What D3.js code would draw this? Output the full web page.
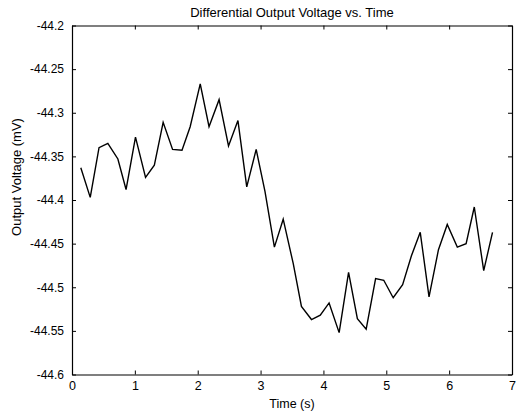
<!DOCTYPE html>
<html>
<head>
<meta charset="utf-8">
<script src="https://cdn.jsdelivr.net/npm/d3@7"></script>
<style>
  html, body { margin: 0; padding: 0; background: #fff; }
  text { font-family: "Liberation Sans", Arial, sans-serif; fill: #000; }
</style>
</head>
<body>
<div id="chart"></div>
<script>
const WIDTH = 517;
const HEIGHT = 413;
const MARGIN = { top: 25.5, right: 5, bottom: 38.5, left: 72 };

// values
const timeValues = [
  0.14, 0.29, 0.43, 0.57, 0.73, 0.86, 1.01, 1.17, 1.31, 1.45,
  1.60, 1.75, 1.88, 2.04, 2.18, 2.34, 2.49, 2.64, 2.78, 2.93,
  3.07, 3.22, 3.36, 3.52, 3.65, 3.81, 3.95, 4.09, 4.25, 4.40,
  4.54, 4.68, 4.83, 4.96, 5.11, 5.26, 5.40, 5.54, 5.68, 5.83,
  5.97, 6.13, 6.27, 6.40, 6.55, 6.69
];
const voltageValues = [
  -44.363, -44.397, -44.340, -44.335, -44.353, -44.388, -44.328, -44.374, -44.360, -44.311,
  -44.342, -44.343, -44.316, -44.267, -44.316, -44.285, -44.338, -44.309, -44.385, -44.342,
  -44.390, -44.454, -44.422, -44.473, -44.522, -44.537, -44.532, -44.518, -44.552, -44.483,
  -44.536, -44.548, -44.490, -44.492, -44.512, -44.497, -44.464, -44.437, -44.511, -44.457,
  -44.428, -44.454, -44.450, -44.408, -44.481, -44.437
];
const xTicks = [0, 1, 2, 3, 4, 5, 6, 7];
const yTicks = [-44.6, -44.55, -44.5, -44.45, -44.4, -44.35, -44.3, -44.25, -44.2];

const TITLE = "Differential Output Voltage vs. Time";
const X_LABEL = "Time (s)";
const Y_LABEL = "Output Voltage (mV)";

const points = timeValues.map((t, i) => ({ t: t, v: voltageValues[i] }));

// --------------- Step 1 ---------------
// svg and scales
const svg = d3
  .select("#chart")
  .append("svg")
  .attr("width", WIDTH)
  .attr("height", HEIGHT);

const x = d3
  .scaleLinear()
  .domain([0, 7])
  .range([MARGIN.left, WIDTH - MARGIN.right]);

const y = d3
  .scaleLinear()
  .domain([-44.6, -44.2])
  .range([HEIGHT - MARGIN.bottom, MARGIN.top]);

// --------------- Step 2 ---------------
// axes with inward ticks on all four sides (matlab style box)
const TICK = 4;
const fmt = d => String(d);

svg.append("g")
  .attr("transform", `translate(0,${y.range()[0]})`)
  .call(d3.axisBottom(x).tickValues(xTicks).tickFormat(fmt).tickSizeInner(-TICK).tickSizeOuter(0).tickPadding(8))
  .call(g => g.selectAll("text").attr("font-size", 12.5).attr("dy", "0.6em"));

svg.append("g")
  .attr("transform", `translate(0,${y.range()[1]})`)
  .call(d3.axisTop(x).tickValues(xTicks).tickFormat("").tickSizeInner(-TICK).tickSizeOuter(0));

svg.append("g")
  .attr("transform", `translate(${x.range()[0]},0)`)
  .call(d3.axisLeft(y).tickValues(yTicks).tickFormat(fmt).tickSizeInner(-TICK).tickSizeOuter(0).tickPadding(8))
  .call(g => g.selectAll("text").attr("font-size", 12));

svg.append("g")
  .attr("transform", `translate(${x.range()[1]},0)`)
  .call(d3.axisRight(y).tickValues(yTicks).tickFormat("").tickSizeInner(-TICK).tickSizeOuter(0));

svg.selectAll(".domain").attr("stroke", "#000").attr("stroke-width", 1.2);
svg.selectAll(".tick line").attr("stroke", "#000");
svg.selectAll(".tick text").attr("font-family", "Liberation Sans, Arial, sans-serif");

// --------------- Step 3 ---------------
// the data line
const line = d3.line()
  .x(d => x(d.t))
  .y(d => y(d.v));

svg.append("path")
  .datum(points)
  .attr("d", line)
  .attr("fill", "none")
  .attr("stroke", "#000")
  .attr("stroke-width", 1.4)
  .attr("stroke-linejoin", "miter");

// --------------- Step 4 ---------------
// title and labels
svg.append("text")
  .attr("x", 292)
  .attr("y", 17)
  .attr("text-anchor", "middle")
  .attr("font-size", 13)
  .text(TITLE);

svg.append("text")
  .attr("x", 292)
  .attr("y", 408)
  .attr("text-anchor", "middle")
  .attr("font-size", 12.5)
  .text(X_LABEL);

svg.append("text")
  .attr("transform", "translate(21,177) rotate(-90)")
  .attr("text-anchor", "middle")
  .attr("font-size", 13)
  .text(Y_LABEL);
</script>
</body>
</html>
